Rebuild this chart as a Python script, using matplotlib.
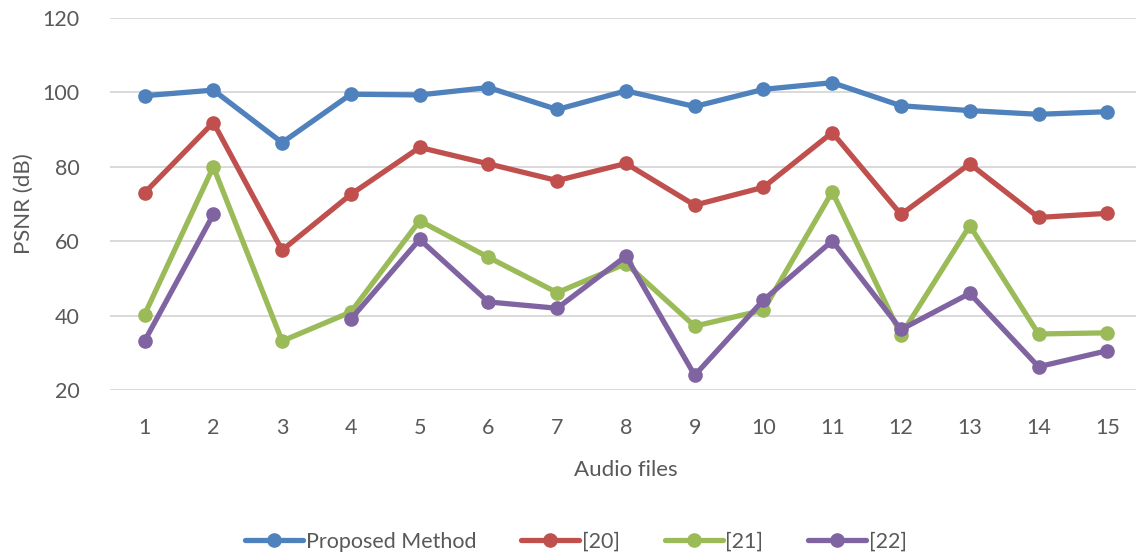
import numpy as np
import matplotlib.pyplot as plt

plt.rcParams["font.family"] = ["Lato", "DejaVu Sans"]

files = np.arange(1, 16)

proposed = [99.1, 100.6, 86.5, 99.5, 99.3, 101.3, 95.4, 100.4, 96.2, 100.8,
            102.6, 96.4, 95.1, 94.1, 94.8]
ref20 = [73.0, 91.9, 57.6, 72.6, 85.2, 80.8, 76.3, 80.9, 69.7, 74.5,
         89.2, 67.2, 80.8, 66.4, 67.5]
ref21 = [40.3, 80.0, 33.2, 41.0, 65.5, 55.7, 46.2, 54.0, 37.2, 41.5,
         73.3, 34.8, 64.2, 35.1, 35.4]
# no value for file 3
ref22 = [33.2, 67.2, np.nan, 39.1, 60.5, 43.7, 42.0, 56.0, 24.0, 44.2,
         60.1, 36.3, 46.0, 26.3, 30.6]

series = [
    ("Proposed Method", proposed, "#4F81BD"),
    ("[20]", ref20, "#C0504D"),
    ("[21]", ref21, "#9BBB59"),
    ("[22]", ref22, "#8064A2"),
]

fig = plt.figure(figsize=(11.36, 5.59), dpi=100)
ax = fig.add_axes([0.097, 0.302, 0.908, 0.666])

for name, vals, col in series:
    ax.plot(files, vals, color=col, lw=3.8, marker="o", ms=9.5,
            solid_capstyle="round", label=name)

ax.set_xlim(0.5, 15.5)
ax.set_ylim(20, 120)
ax.set_xticks(files)
ax.set_yticks(np.arange(20, 121, 20))
ax.grid(axis="y", color="#D9D9D9", lw=1.4)
ax.set_axisbelow(True)
for s in ax.spines.values():
    s.set_visible(False)
ax.tick_params(length=0, labelsize=15.5, colors="#595959")
ax.tick_params(axis="x", pad=20)
ax.tick_params(axis="y", pad=22)

ax.set_ylabel("PSNR (dB)", fontsize=16, color="#595959", labelpad=6)
ax.set_xlabel("Audio files", fontsize=16, color="#595959", labelpad=16)

fig.legend(loc="center", bbox_to_anchor=(0.507, 0.031), ncol=4,
           frameon=False, fontsize=15.5, handlelength=2.7, handletextpad=0.1,
           columnspacing=2.1, labelcolor="#595959")

fig.savefig("out.png", dpi=100)
